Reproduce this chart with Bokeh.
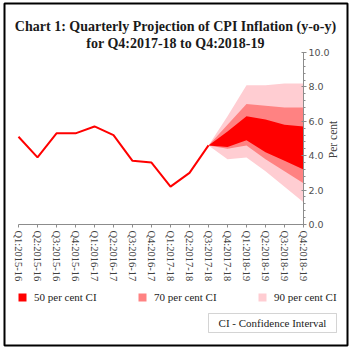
from math import pi
from bokeh.plotting import figure
from bokeh.models import (Range1d, FixedTicker, SingleIntervalTicker, NumeralTickFormatter,
                          LinearAxis, Label, Legend, LegendItem, BoxAnnotation)
from bokeh.embed import file_html
from bokeh.resources import INLINE

# ---- data ----
quarters = ["Q1:2015-16", "Q2:2015-16", "Q3:2015-16", "Q4:2015-16",
            "Q1:2016-17", "Q2:2016-17", "Q3:2016-17", "Q4:2016-17",
            "Q1:2017-18", "Q2:2017-18", "Q3:2017-18", "Q4:2017-18",
            "Q1:2018-19", "Q2:2018-19", "Q3:2018-19", "Q4:2018-19"]
actual = [5.1, 3.9, 5.3, 5.3, 5.7, 5.2, 3.7, 3.6, 2.2, 3.0, 4.6]
proj_quarters = quarters[10:]
lo90 = [4.6, 3.8, 3.9, 3.1, 2.2, 1.3]
lo70 = [4.6, 4.4, 4.6, 3.8, 3.1, 2.4]
lo50 = [4.6, 4.5, 4.9, 4.2, 3.7, 3.2]
hi50 = [4.6, 5.4, 6.3, 6.1, 5.8, 5.7]
hi70 = [4.6, 5.8, 7.0, 6.9, 6.8, 6.8]
hi90 = [4.6, 6.3, 8.1, 8.1, 8.2, 8.2]
y_min, y_max = 0, 10
title_lines = ["Chart 1: Quarterly Projection of CPI Inflation (y-o-y)",
               "for Q4:2017-18 to Q4:2018-19"]
legend_labels = ["50 per cent CI", "70 per cent CI", "90 per cent CI"]
note_text = "CI - Confidence Interval"
y_label = "Per cent"

C50, C70, C90 = "#FF0000", "#FF8282", "#FFCDD2"
SERIF = "Liberation Serif"

idx = {q: i for i, q in enumerate(quarters)}
xa = [idx[q] for q in quarters[:len(actual)]]
xp = [idx[q] for q in proj_quarters]
n_last = len(quarters) - 1

# The frame covers the whole bordered card; the ranges are padded so that the
# plotting region (x 0..15, y 0..10) sits where the reference draws it.
XPX = 285 / n_last          # pixels per quarter
YPX = 172 / (y_max - y_min)  # pixels per percentage point
p = figure(width=351, height=351, output_backend="svg", toolbar_location=None,
           x_range=Range1d(-14 / XPX, n_last + 44 / XPX),
           y_range=Range1d(y_min - 121 / YPX, y_max + 49 / YPX),
           x_axis_location=None, y_axis_location=None,
           min_border_left=4, min_border_right=4, min_border_top=3, min_border_bottom=6,
           outline_line_color="black", outline_line_width=2,
           background_fill_color="white", border_fill_color="white")
p.grid.visible = False

r90 = p.varea(x=xp, y1=lo90, y2=hi90, fill_color=C90)
r70 = p.varea(x=xp, y1=lo70, y2=hi70, fill_color=C70)
r50 = p.varea(x=xp, y1=lo50, y2=hi50, fill_color=C50)
p.line(x=xa, y=actual, line_color="#FF0000", line_width=2)

# x axis, fixed at y = 0
xax = LinearAxis(fixed_location=y_min, bounds=(0, n_last),
                 ticker=FixedTicker(ticks=list(range(len(quarters)))),
                 major_label_overrides={i: q for i, q in enumerate(quarters)},
                 major_label_orientation="vertical",
                 major_label_text_font=SERIF, major_label_text_font_size="10.5px",
                 major_label_text_color="#404040", major_label_standoff=3,
                 major_tick_out=3, major_tick_in=0, minor_tick_line_color=None,
                 axis_line_color="#8c8c8c", major_tick_line_color="#8c8c8c")
p.add_layout(xax, "below")

# y axis on the right, fixed at the last quarter
yax = LinearAxis(fixed_location=n_last, bounds=(y_min, y_max),
                 ticker=SingleIntervalTicker(interval=2, num_minor_ticks=5),
                 formatter=NumeralTickFormatter(format="0.0"),
                 major_label_text_font="DejaVu Sans", major_label_text_font_size="9.5px",
                 major_label_text_color="#505050", major_label_standoff=2,
                 major_tick_out=3, major_tick_in=2, minor_tick_out=2, minor_tick_in=0,
                 axis_line_color="#8c8c8c", major_tick_line_color="#8c8c8c",
                 minor_tick_line_color="#8c8c8c")
p.add_layout(yax, "right")

# screen positions below are pixels from the frame's bottom-left corner
p.add_layout(Label(x=328, y=206, x_units="screen", y_units="screen", text=y_label,
                   angle=pi / 2, text_align="center", text_baseline="middle",
                   text_font=SERIF, text_font_size="11.5px", text_color="#404040"))

p.add_layout(Label(x=171, y=319, x_units="screen", y_units="screen", text=title_lines[0],
                   text_align="center", text_baseline="alphabetic", text_font=SERIF,
                   text_font_size="14px", text_font_style="bold", text_color="#1a1a1a"))
p.add_layout(Label(x=171, y=302, x_units="screen", y_units="screen", text=title_lines[1],
                   text_align="center", text_baseline="alphabetic", text_font=SERIF,
                   text_font_size="14px", text_font_style="bold", text_color="#1a1a1a"))

legend = Legend(items=[LegendItem(label=legend_labels[0], renderers=[r50]),
                       LegendItem(label=legend_labels[1], renderers=[r70]),
                       LegendItem(label=legend_labels[2], renderers=[r90])],
                location=(13, 42), orientation="horizontal",
                glyph_width=10, glyph_height=10, label_standoff=7, label_width=95,
                label_height=10, spacing=8, padding=0, margin=0,
                border_line_color=None, background_fill_alpha=0,
                label_text_font=SERIF, label_text_font_size="11px",
                label_text_color="#222222")
p.add_layout(legend)

p.add_layout(BoxAnnotation(left=204, right=332, top=32, bottom=13,
                           left_units="screen", right_units="screen",
                           top_units="screen", bottom_units="screen",
                           fill_alpha=0, line_color="#707070", line_width=1))
p.add_layout(Label(x=268, y=22.5, x_units="screen", y_units="screen", text=note_text,
                   text_align="center", text_baseline="middle", text_font=SERIF,
                   text_font_size="11px", text_color="#222222"))

open("out.html", "w").write(file_html(p, INLINE))
